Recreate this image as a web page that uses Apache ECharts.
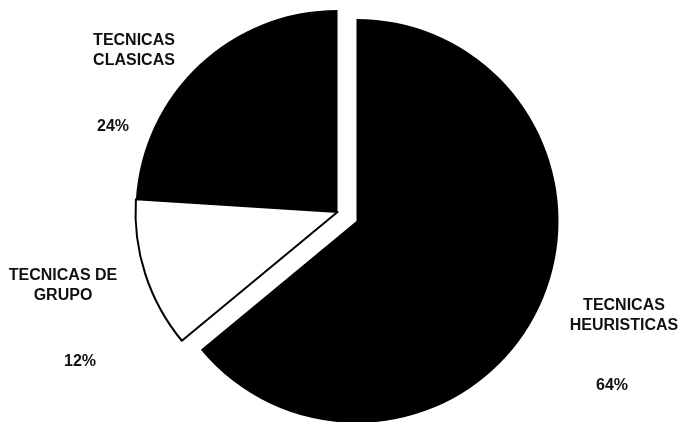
<!DOCTYPE html>
<html>
<head>
<meta charset="utf-8">
<script src="https://cdn.jsdelivr.net/npm/echarts@6/dist/echarts.min.js"></script>
<style>html,body{margin:0;padding:0;background:#fff}#c{width:683px;height:422px}</style>
</head>
<body>
<div id="c"></div>
<script>
// Data
var categories = ["TECNICAS\nHEURISTICAS", "TECNICAS DE\nGRUPO", "TECNICAS\nCLASICAS"];
var values = [64, 12, 24];

// Label placement (layout only)
var namePos = [[624, 316], [63, 286], [134, 51]];
var pctPos = [[612, 386], [80, 362], [113, 127]];

var colors = ["#000", "#fff", "#000"];

var chart = echarts.init(document.getElementById('c'), null, {renderer: 'canvas'});
var data = categories.map(function (n, i) {
  return {
    name: n,
    value: values[i],
    selected: i === 0,
    itemStyle: {
      color: colors[i],
      borderColor: '#000',
      borderWidth: i === 1 ? 2 : 0
    }
  };
});
var graphics = [];
categories.forEach(function (n, i) {
  graphics.push({
    type: 'text', left: null, x: namePos[i][0], y: namePos[i][1],
    style: {
      text: n, x: 0, y: 0, align: 'center', verticalAlign: 'middle',
      font: 'bold 16px "Liberation Sans", Arial, sans-serif', lineHeight: 20, fill: '#111'
    }
  });
  graphics.push({
    type: 'text', x: pctPos[i][0], y: pctPos[i][1],
    style: {
      text: values[i] + '%', x: 0, y: 0, align: 'center', verticalAlign: 'middle',
      font: 'bold 16px "Liberation Sans", Arial, sans-serif', fill: '#111'
    }
  });
});
chart.setOption({
  backgroundColor: '#fff',
  animation: false,
  series: [{
    type: 'pie',
    center: [337.5, 212],
    radius: [0, 202],
    startAngle: 90,
    clockwise: true,
    selectedMode: 'single',
    selectedOffset: 21,
    label: {show: false},
    labelLine: {show: false},
    emphasis: {disabled: true},
    data: data
  }],
  graphic: graphics
});
</script>
</body>
</html>
